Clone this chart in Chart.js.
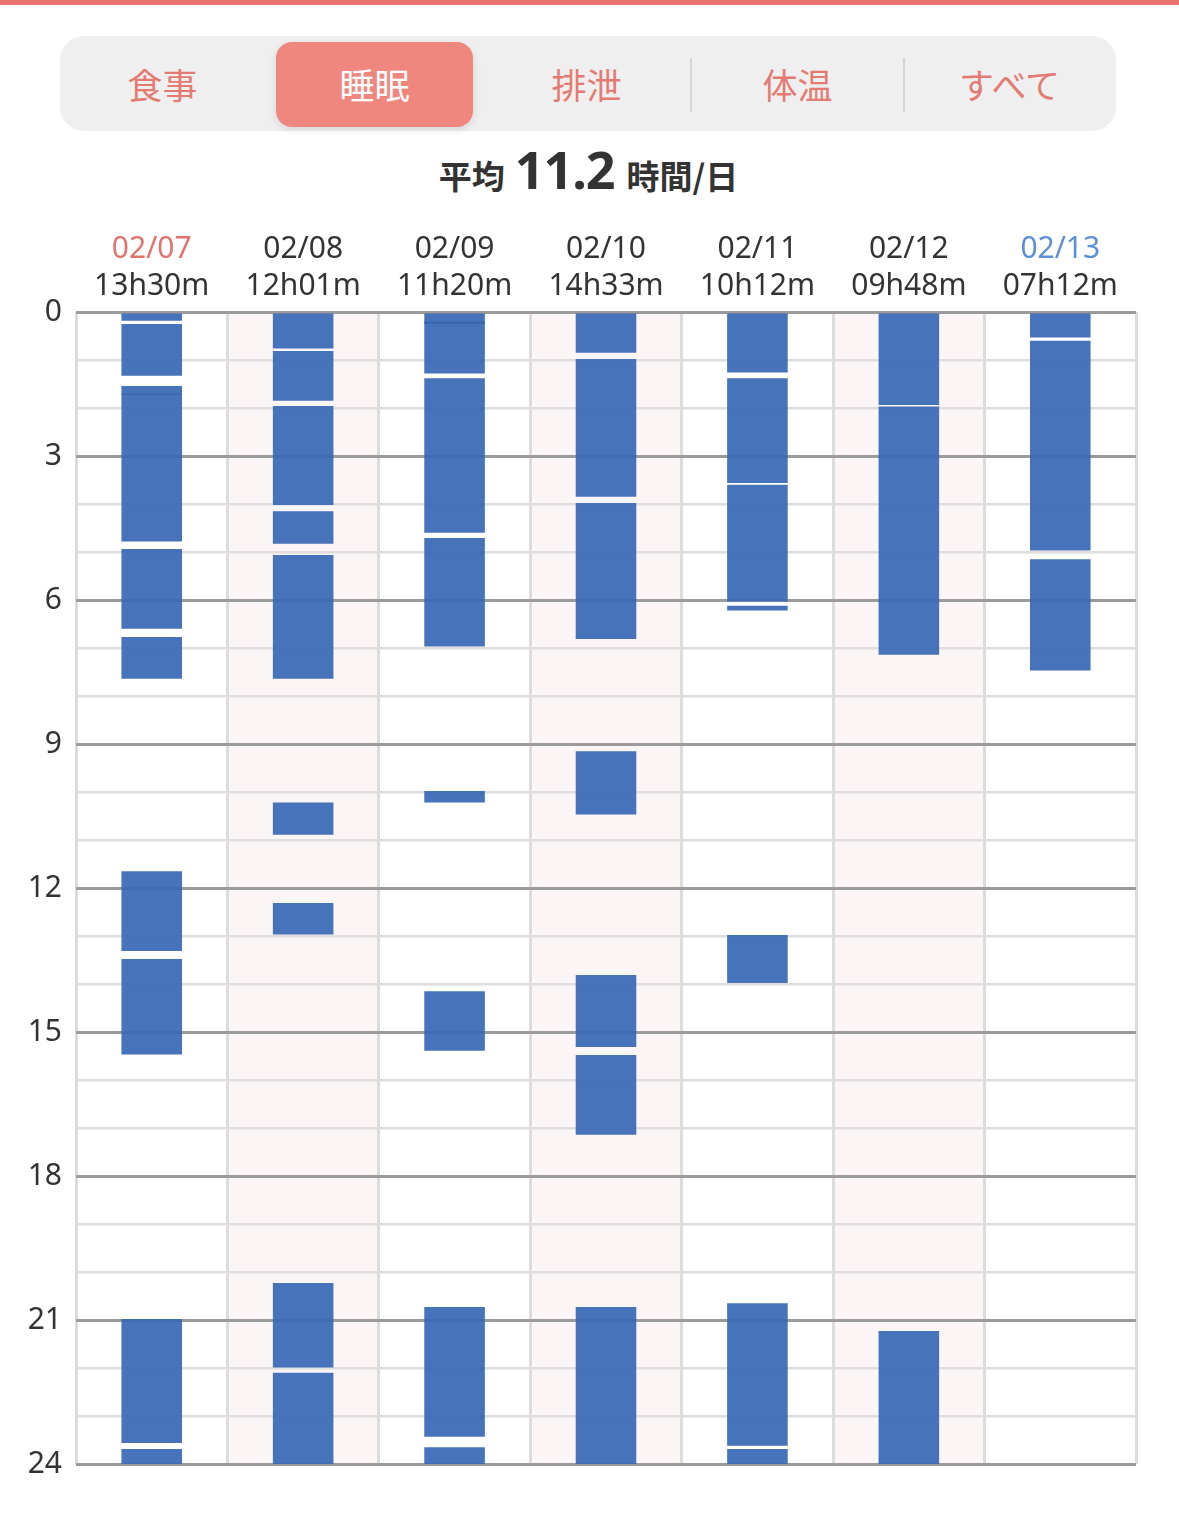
<!DOCTYPE html>
<html lang="ja">
<head>
<meta charset="utf-8">
<script src="https://cdn.jsdelivr.net/npm/chart.js@4.4.1/dist/chart.umd.min.js"></script>
<style>
  html, body { margin:0; padding:0; background:#fff; }
  body { width:1179px; height:1538px; position:relative; overflow:hidden;
         font-family:"Noto Sans","Noto Sans CJK JP",sans-serif; }
  #topbar { position:absolute; left:0; top:0; width:1179px; height:5px; background:#e8736f; }
  #tabs { position:absolute; left:60px; top:36px; width:1056px; height:95px; background:#efefef; border-radius:24px; }
  #sel { position:absolute; left:276px; top:42px; width:197px; height:85px; background:#ef877e; border-radius:16px;
         box-shadow:0 3px 8px rgba(0,0,0,0.10); }
  .tab { position:absolute; top:36px; height:95px; width:211px; display:flex; align-items:center; justify-content:center;
         font-family:"Noto Sans CJK JP",sans-serif; font-size:35px; color:#e47b73; }
  .sep { position:absolute; top:58px; width:2px; height:54px; background:#d6d6d6; }
  #title { position:absolute; left:0; top:133px; width:1177px; height:70px; display:flex; align-items:baseline; justify-content:center;
           color:#333; font-weight:bold; }
  #title .s { font-family:"Noto Sans CJK JP",sans-serif; font-size:33px; }
  #title .b { font-family:"Noto Sans",sans-serif; font-size:52px; margin:0 12px 0 10px; letter-spacing:-1px; }
  #wrap { position:absolute; left:0; top:210px; width:1179px; height:1290px; }
</style>
</head>
<body>
<div id="topbar"></div>
<div id="tabs"></div>
<div id="sel"></div>
<div class="tab" style="left:57px;">食事</div>
<div class="tab" style="left:269px;color:#fff;">睡眠</div>
<div class="tab" style="left:481px;">排泄</div>
<div class="sep" style="left:690px;"></div>
<div class="tab" style="left:692px;">体温</div>
<div class="sep" style="left:903px;"></div>
<div class="tab" style="left:904px;">すべて</div>
<div id="title"><span class="s">平均</span><span class="b">11.2</span><span class="s">時間/日</span></div>
<div id="wrap"><canvas id="c"></canvas></div>
<script>
// ---- data ----
const dates = ['02/07','02/08','02/09','02/10','02/11','02/12','02/13'];
const durations = ['13h30m','12h01m','11h20m','14h33m','10h12m','09h48m','07h12m'];
const yTickLabels = [0,3,6,9,12,15,18,21,24];
// sleep segments per day: [start hour, end hour]
const sleep0207 = [[0,0.18],[0.25,1.33],[1.54,1.73],[1.70,4.78],[4.94,6.60],[6.77,7.64],[11.65,13.31],[13.48,15.47],[20.98,23.56],[23.69,24]];
const sleep0208 = [[0,0.76],[0.81,1.85],[1.96,4.02],[4.15,4.83],[5.06,7.64],[10.22,10.89],[12.31,12.97],[20.23,21.99],[22.10,24]];
const sleep0209 = [[0,0.25],[0.20,1.28],[1.38,4.60],[4.71,6.97],[9.98,10.22],[14.15,15.39],[20.73,23.43],[23.65,24]];
const sleep0210 = [[0,0.85],[0.98,3.85],[3.98,6.81],[9.15,10.47],[13.81,15.31],[15.48,17.14],[20.73,24]];
const sleep0211 = [[0,1.26],[1.38,3.56],[3.60,6.03],[6.12,6.22],[12.98,13.98],[20.65,23.62],[23.69,24]];
const sleep0212 = [[0,1.94],[1.97,7.14],[21.23,24]];
const sleep0213 = [[0,0.53],[0.60,4.97],[5.15,7.47]];
const dateColors = ['#e0736b','#333333','#333333','#333333','#333333','#333333','#5b8fd6'];

const perDay = [sleep0207,sleep0208,sleep0209,sleep0210,sleep0211,sleep0212,sleep0213];
const points = [];
perDay.forEach((segs, i) => segs.forEach(s => points.push({x: dates[i], y: s})));

const stripes = {
  id: 'stripes',
  beforeDraw(chart) {
    const {ctx, chartArea, scales} = chart;
    const xs = scales.x;
    const half = (xs.getPixelForValue(1) - xs.getPixelForValue(0)) / 2;
    ctx.save();
    ctx.fillStyle = '#fcf5f5';
    [1,3,5].forEach(i => {
      const c = xs.getPixelForValue(i);
      ctx.fillRect(c - half, chartArea.top, half * 2, chartArea.bottom - chartArea.top);
    });
    ctx.restore();
  }
};

new Chart(document.getElementById('c'), {
  type: 'bar',
  data: {
    labels: dates,
    datasets: [{
      data: points,
      backgroundColor: 'rgba(54,103,179,0.92)',
      borderWidth: 0,
      barPercentage: 0.4,
      categoryPercentage: 1.0
    }]
  },
  options: {
    responsive: true,
    maintainAspectRatio: false,
    animation: false,
    layout: { padding: { left: 0, right: 43, top: 22, bottom: 36 } },
    plugins: { legend: { display: false }, tooltip: { enabled: false } },
    scales: {
      x: {
        position: 'top',
        weight: 1,
        afterFit: (s) => { s.height = 37; },
        grid: { color: '#dcdcdc', lineWidth: 3, drawTicks: false, offset: true },
        border: { display: false },
        ticks: {
          color: (c) => dateColors[c.index],
          font: { family: 'Noto Sans', size: 30, lineHeight: 1.0 },
          padding: 5,
          maxRotation: 0,
          autoSkip: false
        }
      },
      x2: {
        type: 'category',
        labels: durations,
        position: 'top',
        weight: 0,
        offset: true,
        afterFit: (s) => { s.height = 43; },
        grid: { display: false, drawTicks: false },
        border: { display: false },
        ticks: {
          color: '#333333',
          font: { family: 'Noto Sans', size: 30, lineHeight: 1.0 },
          padding: 11,
          maxRotation: 0,
          autoSkip: false
        }
      },
      y: {
        min: 0,
        max: 24,
        reverse: true,
        afterFit: (s) => { s.width = 76; },
        grid: {
          color: (c) => (c.tick && c.tick.value % 3 === 0) ? '#9b9b9b' : '#dedede',
          lineWidth: (c) => (c.tick && c.tick.value % 3 === 0) ? 3 : 2.5,
          drawTicks: false
        },
        border: { display: false },
        ticks: {
          stepSize: 1,
          autoSkip: false,
          padding: 14,
          color: '#333333',
          font: { family: 'Noto Sans', size: 30 },
          callback: (v) => yTickLabels.includes(v) ? String(v) : ''
        }
      }
    }
  },
  plugins: [stripes]
});
</script>
</body>
</html>
